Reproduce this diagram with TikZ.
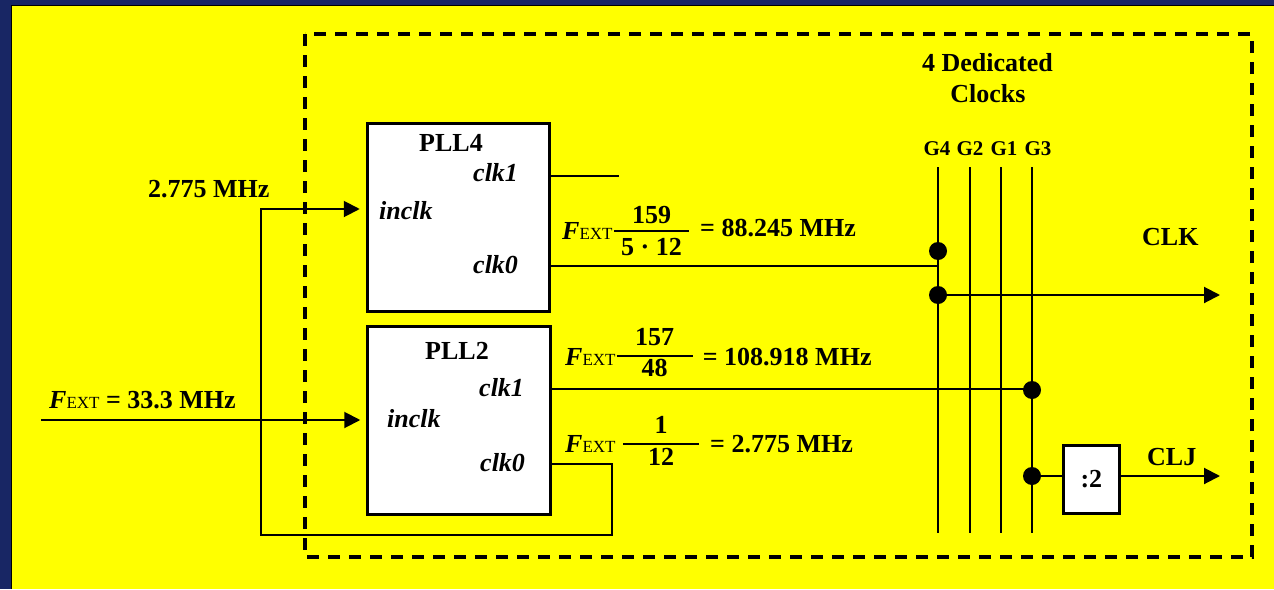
\documentclass[tikz,border=0pt]{standalone}
\usepackage{fontspec}
\setmainfont{Liberation Serif}
\usetikzlibrary{arrows.meta}
\definecolor{bgyellow}{RGB}{255,255,0}
\definecolor{frameblue}{RGB}{24,38,100}
\newcommand\FEXT{{\bfseries\itshape F}{\fontsize{17}{17}\selectfont\mdseries\upshape EXT}}
\begin{document}
\begin{tikzpicture}[x=1pt,y=-1pt,
  txt/.style={font=\fontsize{26}{30}\selectfont\bfseries, inner sep=0pt},
  itxt/.style={font=\fontsize{26}{30}\selectfont\bfseries\itshape, inner sep=0pt},
  gtxt/.style={font=\fontsize{21}{24}\selectfont\bfseries, inner sep=0pt},
  pllbox/.style={draw, line width=3pt, fill=white, minimum width=182.5pt, minimum height=188pt, inner sep=0pt},
  divbox/.style={draw, line width=3pt, fill=white, minimum width=56pt, minimum height=68pt, inner sep=0pt, font=\fontsize{26}{30}\selectfont\bfseries},
  wire/.style={line width=2pt},
  arr/.style={wire, -{Triangle[length=16pt,width=16pt]}},
  jdot/.style={circle, fill=black, inner sep=0pt, minimum size=18pt},
  fracbar/.style={line width=1.6pt},
]
\useasboundingbox (0,0) rectangle (1274,589);
\fill[frameblue] (0,0) rectangle (1274,589);
\fill[bgyellow] (11,5) rectangle (1274,589);
\draw[line width=1pt] (11,589) -- (11,5) -- (1274,5);

% dashed device outline
\draw[line width=3.5pt, dash pattern=on 12pt off 9pt] (305,34) rectangle (1252,557);

% PLL blocks
\node[pllbox] (pll4) at (458.5,217.3) {};
\node[pllbox] (pll2) at (459,420) {};
\node[txt, anchor=base] (pll4t) at (451,151.7) {PLL4};
\node[itxt, anchor=base west] (p4c1) at (473,181.7) {clk1};
\node[itxt, anchor=base west] (p4in) at (379,219) {inclk};
\node[itxt, anchor=base west] (p4c0) at (473,273) {clk0};
\node[txt, anchor=base] (pll2t) at (457,359.3) {PLL2};
\node[itxt, anchor=base west] (p2c1) at (479,396.7) {clk1};
\node[itxt, anchor=base west] (p2in) at (387,427.7) {inclk};
\node[itxt, anchor=base west] (p2c0) at (480,471.7) {clk0};

% divider
\node[divbox] (div) at (1091.4,479.5) {:2};

% dedicated clock lines
\foreach \n/\x in {g4/938, g2/969.5, g1/1001, g3/1032} {
  \coordinate (\n-t) at (\x,167);
  \coordinate (\n-b) at (\x,533);
  \draw[wire] (\n-t) -- (\n-b);
}
\node[gtxt, anchor=base] (lg4) at (937,155) {G4};
\node[gtxt, anchor=base] (lg2) at (970,155) {G2};
\node[gtxt, anchor=base] (lg1) at (1004,155) {G1};
\node[gtxt, anchor=base] (lg3) at (1038,155) {G3};
\node[txt, anchor=base] (ded1) at (987.5,71.7) {4 Dedicated};
\node[txt, anchor=base] (ded2) at (988,102.7) {Clocks};

% coordinates
\coordinate (c1end) at (619,176);
\coordinate (p4o) at (0,266);
\coordinate (p2o1) at (0,389);
\coordinate (fb1) at (612,464);
\coordinate (fb2) at (612,535);
\coordinate (fb3) at (260.5,535);
\coordinate (fb4) at (260.5,209);
\coordinate (fin) at (41,420);
\coordinate (clkend) at (1220,295);
\coordinate (cljend) at (1220,476);

% connectors
\draw[wire] (pll4.east |- c1end) -- (c1end);
\draw[wire] (pll4.east |- p4o) -- (g4-t |- p4o);
\draw[wire] (pll2.east |- p2o1) -- (g3-t |- p2o1);
\draw[arr, shorten >=6pt] (pll2.east |- fb1) -- (fb1) -- (fb2) -- (fb3) -- (fb4) -- (pll4.west |- fb4);
\draw[arr, shorten >=6pt] (fin) -- (pll2.west |- fin);

\node[jdot] (d1) at (938,251) {};
\node[jdot] (d2) at (938,295) {};
\node[jdot] (d3) at (1032,390) {};
\node[jdot] (d4) at (1032,476) {};
\draw[arr] (d2.center) -- (clkend);
\draw[wire] (d4.center) -- (div.west |- d4);
\draw[arr] (div.east |- d4) -- (cljend);

% labels
\node[txt, anchor=base west] (lf1) at (148,197) {2.775 MHz};
\node[txt, anchor=base west] (lfin) at (49,408.3) {\FEXT{} = 33.3 MHz};
\node[txt, anchor=base west] (lclk) at (1142,245) {CLK};
\node[txt, anchor=base west] (lclj) at (1147,465) {CLJ};

% formula 1
\node[txt, anchor=base west] (fa) at (562,239) {\FEXT};
\draw[fracbar] (614,230.7) -- (689,230.7);
\node[txt, anchor=base] (na) at (651.5,223) {159};
\node[txt, anchor=base] (da) at (651.5,255) {5 · 12};
\node[txt, anchor=base west] (ea) at (700,236.7) {= 88.245 MHz};
% formula 2
\node[txt, anchor=base west] (fb) at (565,365) {\FEXT};
\draw[fracbar] (616.7,355.7) -- (692.7,355.7);
\node[txt, anchor=base] (nb) at (654.7,345) {157};
\node[txt, anchor=base] (db) at (654.7,376.7) {48};
\node[txt, anchor=base west] (eb) at (702.7,365) {= 108.918 MHz};
% formula 3
\node[txt, anchor=base west] (fc) at (565,452) {\FEXT};
\draw[fracbar] (623,444) -- (698.7,444);
\node[txt, anchor=base] (nc) at (661,433) {1};
\node[txt, anchor=base] (dc) at (661,465) {12};
\node[txt, anchor=base west] (ec) at (710,452) {= 2.775 MHz};
\end{tikzpicture}
\end{document}
